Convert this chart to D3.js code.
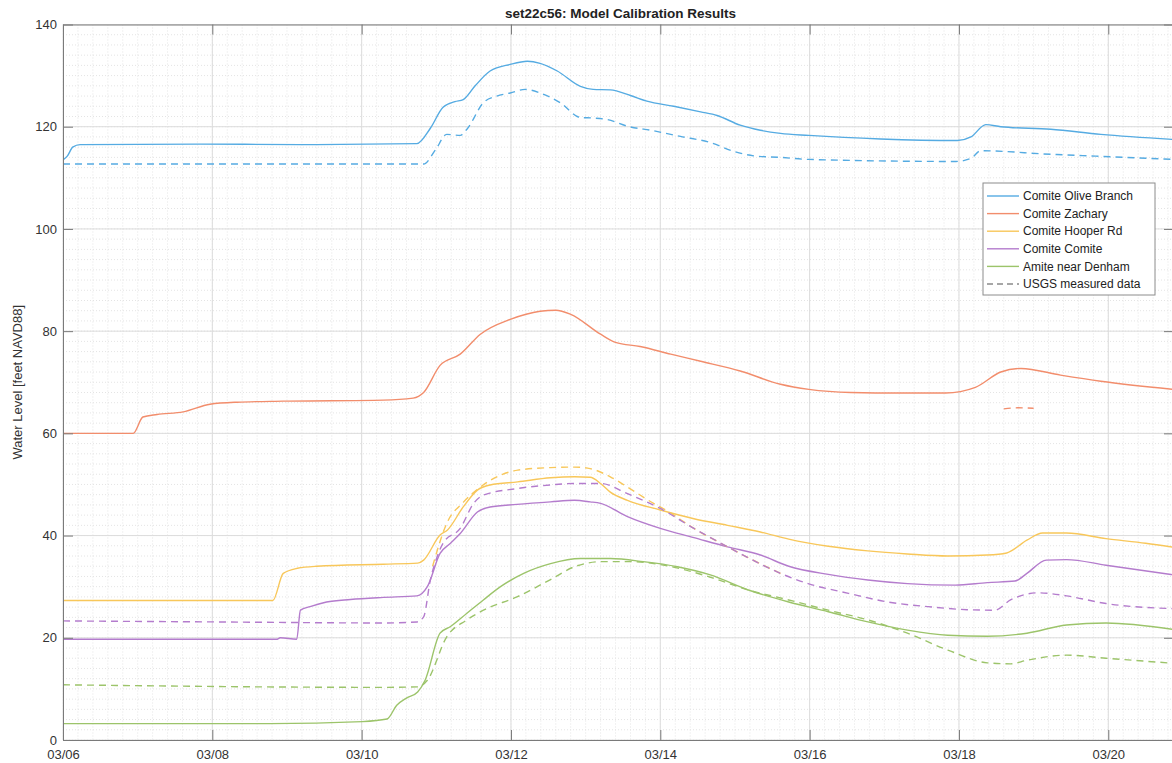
<!DOCTYPE html>
<html><head><meta charset="utf-8">
<script src="https://cdn.jsdelivr.net/npm/d3@7"></script>
<style>
body{margin:0;background:#fff;}
svg{display:block;}
text{font-family:"Liberation Sans",Arial,Helvetica,sans-serif;}
</style>
</head><body>
<svg id="chart" width="1172" height="763"></svg>
<script>
// ---------------- data ----------------
const chartTitle = "set22c56: Model Calibration Results";
const yAxisLabel = "Water Level [feet NAVD88]";
const startDay = new Date(2016, 2, 6);      // 03/06
const endDayOffset = 14.88;                 // axis right limit (days after 03/06)
const xTickDays = [0, 2, 4, 6, 8, 10, 12, 14];
const xTickLabels = ["03/06", "03/08", "03/10", "03/12", "03/14", "03/16", "03/18", "03/20"];
const yTickValues = [0, 20, 40, 60, 80, 100, 120, 140];

const legendNames = ["Comite Olive Branch", "Comite Zachary", "Comite Hooper Rd", "Comite Comite", "Amite near Denham", "USGS measured data"];
const seriesColors = ["#55abe2", "#f28d6c", "#f8c75a", "#b47ccd", "#9cc46a", "#8a8a8a"];

// times are days after 03/06 00:00
const oliveT = [0,0.06,0.13,0.23,1.84,3.18,4.74,4.92,5.09,5.25,5.36,5.52,5.72,5.99,6.22,6.39,6.62,6.93,7.10,7.33,7.60,7.82,8.18,8.54,8.76,9.07,9.34,9.61,9.99,10.95,11.98,12.16,12.36,12.56,13.23,13.90,14.88];
const oliveV = [113.5,114.3,116.0,116.5,116.6,116.5,116.7,119.7,123.8,124.9,125.3,128.0,130.9,132.2,132.8,132.4,130.9,127.9,127.3,127.2,126.1,125.0,124.0,122.9,122.2,120.3,119.3,118.7,118.3,117.6,117.3,118.0,120.4,120.0,119.5,118.5,117.5];
const oliveObsT = [0,4.83,4.99,5.14,5.32,5.41,5.63,5.81,5.99,6.19,6.39,6.66,6.93,7.10,7.29,7.56,7.91,8.27,8.67,8.98,9.25,9.61,9.99,11.96,12.16,12.29,13.23,13.90,14.88];
const oliveObsV = [112.7,112.7,115.5,118.5,118.3,119.5,124.7,126.0,126.6,127.3,126.6,124.7,121.8,121.7,121.4,120.1,119.2,118.1,116.9,115.2,114.3,114.0,113.6,113.2,113.8,115.3,114.6,114.2,113.6];

const zacharyT = [0,0.94,1.07,1.26,1.61,1.97,2.33,2.95,4.29,4.69,4.83,5.05,5.32,5.59,5.99,6.39,6.60,6.80,7.20,7.40,7.73,8.14,8.54,9.07,9.61,9.99,10.55,11.22,11.82,12.22,12.56,12.83,13.36,13.90,14.88];
const zacharyV = [60.0,60.0,63.2,63.7,64.2,65.7,66.1,66.3,66.5,66.9,68.0,73.3,75.5,79.4,82.3,83.9,84.1,83.3,79.4,77.8,77.0,75.5,74.1,72.2,69.6,68.6,68.0,67.9,67.9,69.0,72.0,72.7,71.4,70.2,68.6];
const zacharyObsT = [12.60,12.79,13.00];
const zacharyObsV = [64.8,65.0,64.9];

const hooperT = [0,2.81,2.95,3.14,3.40,4.29,4.75,4.83,5.05,5.15,5.36,5.55,5.72,6.09,6.53,6.85,7.06,7.20,7.33,7.56,8.00,8.45,8.90,9.34,9.72,10.25,10.78,11.31,11.85,12.38,12.64,12.91,13.12,13.44,13.97,14.50,14.88];
const hooperV = [27.3,27.3,32.6,33.6,34.0,34.4,34.6,35.2,40.1,41.1,45.6,48.9,49.9,50.5,51.3,51.5,51.4,50.2,48.5,46.9,45.0,43.3,42.0,40.7,39.3,37.9,37.0,36.4,36.0,36.2,36.6,39.1,40.5,40.5,39.4,38.5,37.7];
const hooperObsT = [4.95,5.14,5.36,5.59,6.09,6.53,6.85,7.06,7.33,7.56,7.91,8.05,8.45,8.90,9.16,9.61];
const hooperObsV = [34.0,42.4,46.5,49.5,52.8,53.3,53.4,53.1,51.5,49.5,46.3,45.2,41.4,37.8,35.8,32.6];

const comiteT = [0,2.86,2.91,3.13,3.18,3.31,3.53,3.85,4.29,4.74,4.88,5.05,5.19,5.32,5.55,5.72,6.08,6.53,6.85,7.06,7.20,7.56,8.00,8.45,8.90,9.34,9.72,10.25,10.78,11.31,11.95,12.38,12.75,12.91,13.17,13.44,13.97,14.88];
const comiteV = [19.7,19.7,20.0,19.7,25.4,26.1,27.0,27.5,27.9,28.2,30.0,36.5,38.5,40.4,44.6,45.6,46.1,46.6,46.9,46.6,46.3,43.7,41.4,39.6,37.8,36.2,34.0,32.4,31.3,30.6,30.3,30.8,31.1,32.6,35.2,35.3,34.2,32.3];
const comiteObsT = [0,2.06,4.29,4.74,4.83,4.92,5.01,5.09,5.32,5.50,5.63,6.08,6.53,6.85,7.20,7.56,8.00,8.45,8.90,9.16,9.61,9.98,10.52,11.05,11.58,12.11,12.48,12.69,13.07,13.44,13.97,14.88];
const comiteObsV = [23.3,23.1,22.9,23.1,24.1,31.3,35.8,38.5,41.4,46.3,47.9,49.2,49.9,50.2,50.2,48.2,45.3,41.4,37.8,35.8,32.6,30.6,28.7,27.0,26.1,25.5,25.4,27.4,28.8,28.2,26.7,25.7];

const amiteT = [0,2.77,4.01,4.34,4.47,4.60,4.75,4.85,5.05,5.19,5.41,5.63,5.86,6.17,6.53,6.93,7.33,7.77,8.23,8.67,9.19,9.72,10.25,10.78,11.31,11.85,12.38,12.91,13.44,13.97,14.88];
const amiteV = [3.2,3.2,3.6,4.1,6.8,8.2,9.4,11.7,20.9,22.2,24.8,27.4,30.0,32.6,34.5,35.5,35.5,34.9,33.9,32.3,29.3,27.0,25.1,23.1,21.5,20.5,20.3,20.9,22.5,22.9,21.6];
const amiteObsT = [0,4.29,4.75,4.88,5.14,5.41,5.63,6.08,6.53,6.85,7.22,7.59,8.12,8.66,9.19,9.72,10.25,10.78,11.31,11.85,12.38,12.69,12.91,13.44,13.97,14.88];
const amiteObsV = [10.8,10.3,10.4,11.7,20.2,23.5,25.4,28.0,31.4,33.9,34.9,34.9,34.0,31.9,29.3,27.4,25.4,23.5,20.9,17.6,15.1,14.9,15.6,16.6,16.0,15.0];

// ---------------- layout ----------------
(function () {
const pL = 63, pR = 1174, pT = 24.5, pB = 740;
const dayMs = 86400000;
const toDate = d => new Date(startDay.getTime() + d * dayMs);

const svg = d3.select("#chart");
const x = d3.scaleTime().domain([startDay, toDate(endDayOffset)]).range([pL, pR]);
const y = d3.scaleLinear().domain([0, 140]).range([pB, pT]);

// grid: minor
const minorX = d3.range(0, endDayOffset + 0.001, 0.2).map(toDate);
const minorY = d3.range(0, 141, 2);
const gGrid = svg.append("g");
gGrid.selectAll(".mx").data(minorX).enter().append("line")
  .attr("x1", d => x(d)).attr("x2", d => x(d)).attr("y1", pT).attr("y2", pB)
  .attr("stroke", "#e4e4e4").attr("stroke-width", 1).attr("stroke-dasharray", "1,2");
gGrid.selectAll(".my").data(minorY).enter().append("line")
  .attr("x1", pL).attr("x2", pR).attr("y1", d => y(d)).attr("y2", d => y(d))
  .attr("stroke", "#e4e4e4").attr("stroke-width", 1).attr("stroke-dasharray", "1,2");
// grid: major
const majorX = xTickDays.map(toDate);
gGrid.selectAll(".Mx").data(majorX).enter().append("line")
  .attr("x1", d => x(d)).attr("x2", d => x(d)).attr("y1", pT).attr("y2", pB)
  .attr("stroke", "#dcdcdc").attr("stroke-width", 1);
gGrid.selectAll(".My").data(yTickValues).enter().append("line")
  .attr("x1", pL).attr("x2", pR).attr("y1", d => y(d)).attr("y2", d => y(d))
  .attr("stroke", "#dcdcdc").attr("stroke-width", 1);

// clip
svg.append("clipPath").attr("id", "plotclip").append("rect")
  .attr("x", pL).attr("y", pT).attr("width", pR - pL).attr("height", pB - pT);

const line = d3.line().x(d => x(toDate(d[0]))).y(d => y(d[1])).curve(d3.curveMonotoneX);
const zip = (t, v) => t.map((d, i) => [d, v[i]]);

const solids = [
  [oliveT, oliveV, 0], [zacharyT, zacharyV, 1], [hooperT, hooperV, 2], [comiteT, comiteV, 3], [amiteT, amiteV, 4]
];
const dashed = [
  [oliveObsT, oliveObsV, 0], [zacharyObsT, zacharyObsV, 1], [hooperObsT, hooperObsV, 2], [comiteObsT, comiteObsV, 3], [amiteObsT, amiteObsV, 4]
];
const gLines = svg.append("g").attr("clip-path", "url(#plotclip)");
solids.forEach(s => {
  gLines.append("path").attr("d", line(zip(s[0], s[1])))
    .attr("fill", "none").attr("stroke", seriesColors[s[2]]).attr("stroke-width", 1.4);
});
dashed.forEach(s => {
  gLines.append("path").attr("d", line(zip(s[0], s[1])))
    .attr("fill", "none").attr("stroke", seriesColors[s[2]]).attr("stroke-width", 1.4)
    .attr("stroke-dasharray", "7,5");
});

// axes
const axisColor = "#7a7a7a", textColor = "#333";
const xAxisB = d3.axisBottom(x).tickValues(majorX).tickFormat((d, i) => xTickLabels[i]).tickSizeInner(-10).tickSizeOuter(0).tickPadding(10);
const xAxisT = d3.axisTop(x).tickValues(majorX).tickFormat("").tickSizeInner(-10).tickSizeOuter(0);
const yAxisL = d3.axisLeft(y).tickValues(yTickValues).tickSizeInner(-10).tickSizeOuter(0).tickPadding(6);
const yAxisR = d3.axisRight(y).tickValues(yTickValues).tickFormat("").tickSizeInner(-10).tickSizeOuter(0);

function style(g) {
  g.selectAll("path.domain").attr("stroke", axisColor).attr("stroke-width", 1);
  g.selectAll(".tick line").attr("stroke", axisColor).attr("stroke-width", 1);
  g.selectAll(".tick text").attr("fill", textColor).style("font-size", "13px")
    .style("font-family", "'Liberation Sans', Arial, sans-serif");
}
svg.append("g").attr("transform", `translate(0,${pB})`).call(xAxisB).call(style);
svg.append("g").attr("transform", `translate(0,${pT})`).call(xAxisT).call(style);
svg.append("g").attr("transform", `translate(${pL},0)`).call(yAxisL).call(style);
svg.append("g").attr("transform", `translate(${pR},0)`).call(yAxisR).call(style);

// title & y label
svg.append("text").attr("x", (pL + pR) / 2 + 2).attr("y", 18).attr("text-anchor", "middle")
  .style("font-size", "13.5px").style("font-weight", "bold").attr("fill", "#222").text(chartTitle);
svg.append("text").attr("transform", `translate(22,${(pT + pB) / 2}) rotate(-90)`)
  .attr("text-anchor", "middle").style("font-size", "13px").attr("fill", textColor).text(yAxisLabel);

// legend
const lg = svg.append("g");
const lx = 983, ly = 183, lw = 172, lh = 112, rowH = 17.6, row0 = 196;
lg.append("rect").attr("x", lx).attr("y", ly).attr("width", lw).attr("height", lh)
  .attr("fill", "#fff").attr("stroke", "#8c8c8c").attr("stroke-width", 1);
legendNames.forEach((name, i) => {
  const yy = row0 + i * rowH;
  lg.append("line").attr("x1", lx + 4).attr("x2", lx + 36).attr("y1", yy).attr("y2", yy)
    .attr("stroke", seriesColors[i]).attr("stroke-width", 1.4)
    .attr("stroke-dasharray", i === 5 ? "6,4" : null);
  lg.append("text").attr("x", lx + 40).attr("y", yy).attr("dy", "0.35em")
    .style("font-size", "12px").attr("fill", "#222").text(name);
});
})();
</script>
</body></html>
